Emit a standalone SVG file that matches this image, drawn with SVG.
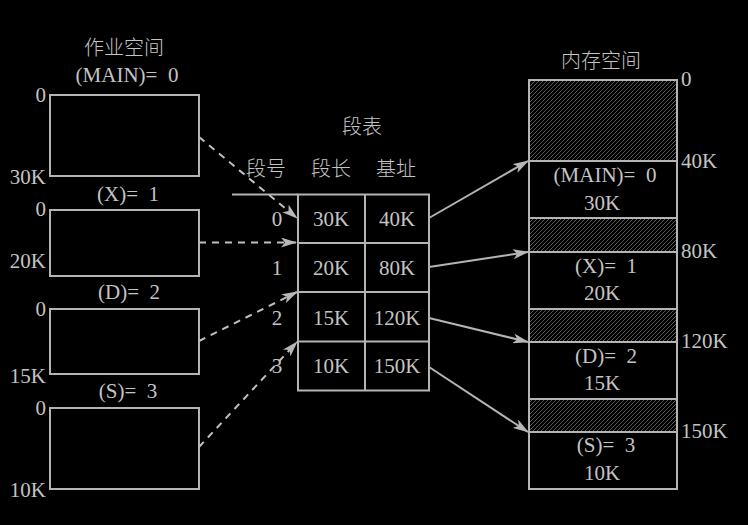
<svg xmlns="http://www.w3.org/2000/svg" width="748" height="525" viewBox="0 0 748 525">
<style>
text{font-family:"Liberation Serif","Noto Sans CJK SC",serif;font-size:21px;fill:#c4c4c4;white-space:pre}
.cjk{font-family:"Noto Sans CJK SC",sans-serif;font-size:20px;font-weight:300}
.c{text-anchor:middle}
.e{text-anchor:end}
.box{fill:none;stroke:#b4b4b4;stroke-width:2}
.ln{fill:none;stroke:#b4b4b4;stroke-width:2}
.dash{fill:none;stroke:#c0c0c0;stroke-width:2;stroke-dasharray:7 6}
.hatch{fill:url(#hp);stroke:#b4b4b4;stroke-width:2}
</style>
<defs>
<pattern id="hp" patternUnits="userSpaceOnUse" width="4" height="4">
<rect width="4" height="4" fill="#000"/>
<path d="M-1,5 L5,-1 M-1,1 L1,-1 M3,5 L5,3" stroke="#6e6e6e" stroke-width="0.8"/>
</pattern>
<marker id="ah" viewBox="0 0 16 10" refX="15" refY="5" markerWidth="16" markerHeight="10" markerUnits="userSpaceOnUse" orient="auto">
<path d="M0,0 L16,5 L0,10 L4,5 Z" fill="#b8b8b8"/>
</marker>
</defs>
<rect width="748" height="525" fill="#000"/>

<g id="job-space">
<text class="c cjk" x="124" y="55">作业空间</text>
<text class="c" x="127" y="82" xml:space="preserve">(MAIN)=  0</text>
<rect class="box" x="50" y="95" width="149" height="81"/>
<text class="e" x="46" y="102">0</text>
<text class="e" x="46" y="184">30K</text>
<text class="c" x="128" y="201" xml:space="preserve">(X)=  1</text>
<rect class="box" x="50" y="210" width="149" height="66"/>
<text class="e" x="46" y="216">0</text>
<text class="e" x="46" y="268">20K</text>
<text class="c" x="129" y="299" xml:space="preserve">(D)=  2</text>
<rect class="box" x="50" y="309" width="149" height="65"/>
<text class="e" x="46" y="316">0</text>
<text class="e" x="46" y="383">15K</text>
<text class="c" x="128" y="398" xml:space="preserve">(S)=  3</text>
<rect class="box" x="50" y="408" width="149" height="81"/>
<text class="e" x="46" y="415">0</text>
<text class="e" x="46" y="497">10K</text>
</g>

<g id="segment-table">
<text class="c cjk" x="362" y="134">段表</text>
<text class="c cjk" x="266" y="176">段号</text>
<text class="c cjk" x="331" y="176">段长</text>
<text class="c cjk" x="396" y="176">基址</text>
<line class="ln" x1="232" y1="194.5" x2="298" y2="194.5"/>
<rect class="box" x="298" y="194.5" width="131" height="196"/>
<line class="ln" x1="365" y1="194.5" x2="365" y2="390.5"/>
<line class="ln" x1="298" y1="243" x2="429" y2="243"/>
<line class="ln" x1="298" y1="292" x2="429" y2="292"/>
<line class="ln" x1="298" y1="341.5" x2="429" y2="341.5"/>
<text class="c" x="277" y="226">0</text>
<text class="c" x="331" y="226">30K</text>
<text class="c" x="397" y="226">40K</text>
<text class="c" x="277" y="275">1</text>
<text class="c" x="331" y="275">20K</text>
<text class="c" x="397" y="275">80K</text>
<text class="c" x="277" y="325">2</text>
<text class="c" x="331" y="325">15K</text>
<text class="c" x="397" y="325">120K</text>
<text class="c" x="277" y="373">3</text>
<text class="c" x="331" y="373">10K</text>
<text class="c" x="397" y="373">150K</text>
</g>

<g id="memory">
<text class="c cjk" x="601" y="68">内存空间</text>
<rect class="hatch" x="529" y="80" width="148" height="81"/>
<rect class="box" x="529" y="161" width="148" height="57"/>
<rect class="hatch" x="529" y="218" width="148" height="34"/>
<rect class="box" x="529" y="252" width="148" height="57"/>
<rect class="hatch" x="529" y="309" width="148" height="33"/>
<rect class="box" x="529" y="342" width="148" height="57"/>
<rect class="hatch" x="529" y="399" width="148" height="33"/>
<rect class="box" x="529" y="432" width="148" height="57"/>
<text class="c" x="605" y="182" xml:space="preserve">(MAIN)=  0</text>
<text class="c" x="602" y="210">30K</text>
<text class="c" x="606" y="273" xml:space="preserve">(X)=  1</text>
<text class="c" x="602" y="300">20K</text>
<text class="c" x="606" y="363" xml:space="preserve">(D)=  2</text>
<text class="c" x="602" y="390">15K</text>
<text class="c" x="606" y="452" xml:space="preserve">(S)=  3</text>
<text class="c" x="602" y="480">10K</text>
<text x="681" y="86">0</text>
<text x="681" y="168">40K</text>
<text x="681" y="258">80K</text>
<text x="681" y="348">120K</text>
<text x="681" y="438">150K</text>
</g>

<g id="connectors">
<line class="dash" x1="199" y1="137" x2="297" y2="218" marker-end="url(#ah)"/>
<line class="dash" x1="199" y1="242.5" x2="296" y2="242.5" marker-end="url(#ah)"/>
<line class="dash" x1="199" y1="341" x2="297" y2="292" marker-end="url(#ah)"/>
<line class="dash" x1="199" y1="447" x2="297" y2="342" marker-end="url(#ah)"/>
<line class="ln" x1="429" y1="218" x2="528" y2="161" marker-end="url(#ah)"/>
<line class="ln" x1="429" y1="267" x2="528" y2="252" marker-end="url(#ah)"/>
<line class="ln" x1="429" y1="318" x2="528" y2="342" marker-end="url(#ah)"/>
<line class="ln" x1="429" y1="367" x2="528" y2="432" marker-end="url(#ah)"/>
</g>
</svg>
